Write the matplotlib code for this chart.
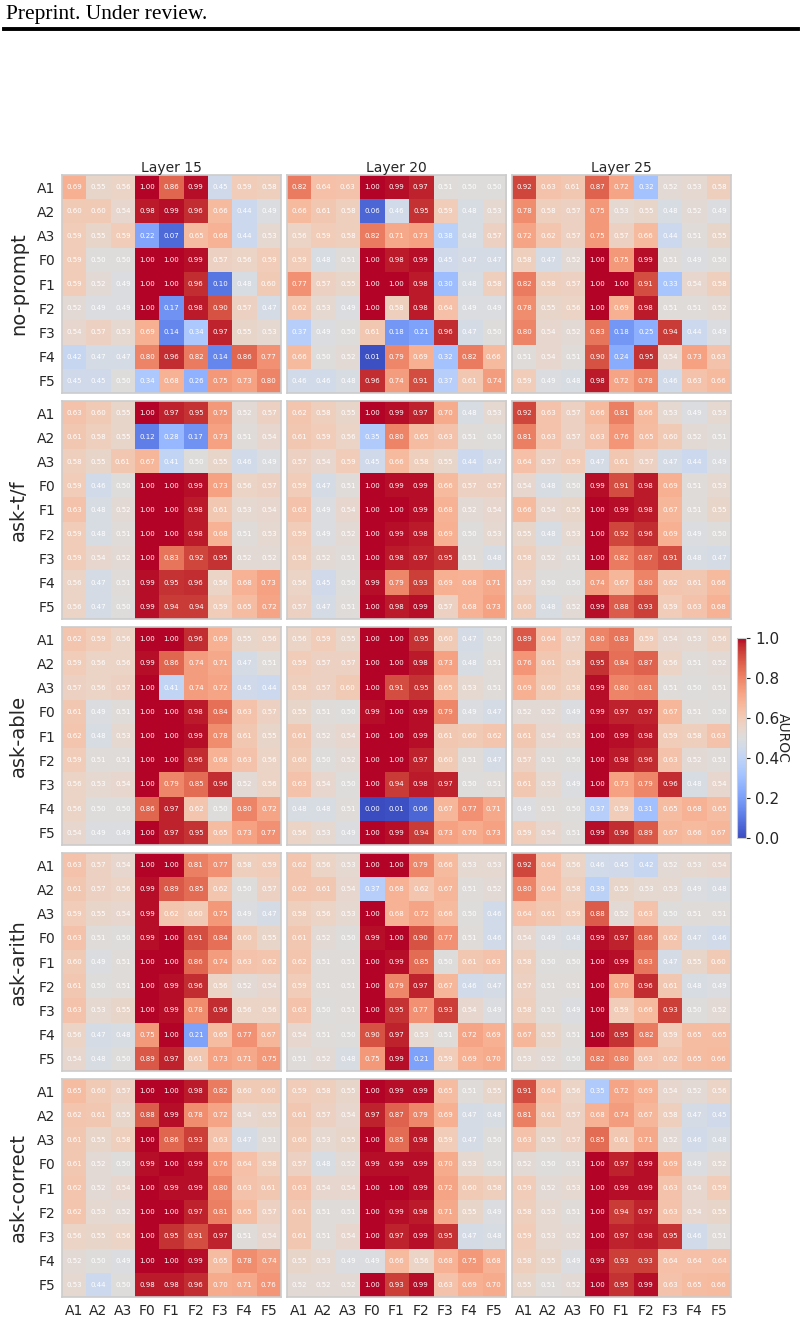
import numpy as np
import matplotlib
matplotlib.use('Agg')
import matplotlib.pyplot as plt
from matplotlib.lines import Line2D

# feature labels (rows and columns) / layers / prompt variants
features = ['A1', 'A2', 'A3', 'F0', 'F1', 'F2', 'F3', 'F4', 'F5']
layers = ['Layer 15', 'Layer 20', 'Layer 25']
prompts = ['no-prompt', 'ask-t/f', 'ask-able', 'ask-arith', 'ask-correct']

# AUROC values, one 9x9 grid per layer
no_prompt = [
    [[0.69, 0.55, 0.56, 1.00, 0.86, 0.99, 0.45, 0.59, 0.58],
     [0.60, 0.60, 0.54, 0.98, 0.99, 0.96, 0.66, 0.44, 0.49],
     [0.59, 0.55, 0.59, 0.22, 0.07, 0.65, 0.68, 0.44, 0.53],
     [0.59, 0.50, 0.50, 1.00, 1.00, 0.99, 0.57, 0.56, 0.59],
     [0.59, 0.52, 0.49, 1.00, 1.00, 0.96, 0.10, 0.48, 0.60],
     [0.52, 0.49, 0.49, 1.00, 0.17, 0.98, 0.90, 0.57, 0.47],
     [0.54, 0.57, 0.53, 0.69, 0.14, 0.34, 0.97, 0.55, 0.53],
     [0.42, 0.47, 0.47, 0.80, 0.96, 0.82, 0.14, 0.86, 0.77],
     [0.45, 0.45, 0.50, 0.34, 0.68, 0.26, 0.75, 0.73, 0.80]],
    [[0.82, 0.64, 0.63, 1.00, 0.99, 0.97, 0.51, 0.50, 0.50],
     [0.66, 0.61, 0.58, 0.06, 0.46, 0.95, 0.59, 0.48, 0.53],
     [0.56, 0.59, 0.58, 0.82, 0.71, 0.73, 0.38, 0.48, 0.57],
     [0.59, 0.48, 0.51, 1.00, 0.98, 0.99, 0.45, 0.47, 0.47],
     [0.77, 0.57, 0.55, 1.00, 1.00, 0.98, 0.30, 0.48, 0.58],
     [0.62, 0.53, 0.49, 1.00, 0.58, 0.98, 0.64, 0.49, 0.49],
     [0.37, 0.49, 0.50, 0.61, 0.18, 0.21, 0.96, 0.47, 0.50],
     [0.66, 0.50, 0.52, 0.01, 0.79, 0.69, 0.32, 0.82, 0.66],
     [0.46, 0.46, 0.48, 0.96, 0.74, 0.91, 0.37, 0.61, 0.74]],
    [[0.92, 0.63, 0.61, 0.87, 0.72, 0.32, 0.52, 0.53, 0.58],
     [0.78, 0.58, 0.57, 0.75, 0.53, 0.55, 0.48, 0.52, 0.49],
     [0.72, 0.62, 0.57, 0.75, 0.57, 0.66, 0.44, 0.51, 0.55],
     [0.58, 0.47, 0.52, 1.00, 0.75, 0.99, 0.51, 0.49, 0.50],
     [0.82, 0.58, 0.57, 1.00, 1.00, 0.91, 0.33, 0.54, 0.58],
     [0.78, 0.55, 0.56, 1.00, 0.69, 0.98, 0.51, 0.51, 0.52],
     [0.80, 0.54, 0.52, 0.83, 0.18, 0.25, 0.94, 0.44, 0.49],
     [0.51, 0.54, 0.51, 0.90, 0.24, 0.95, 0.54, 0.73, 0.63],
     [0.59, 0.49, 0.48, 0.98, 0.72, 0.78, 0.46, 0.63, 0.66]],
]

ask_tf = [
    [[0.63, 0.60, 0.55, 1.00, 0.97, 0.95, 0.75, 0.52, 0.57],
     [0.61, 0.58, 0.55, 0.12, 0.28, 0.17, 0.73, 0.51, 0.54],
     [0.58, 0.55, 0.61, 0.67, 0.41, 0.50, 0.55, 0.46, 0.49],
     [0.59, 0.46, 0.50, 1.00, 1.00, 0.99, 0.73, 0.56, 0.57],
     [0.63, 0.48, 0.52, 1.00, 1.00, 0.98, 0.61, 0.53, 0.54],
     [0.59, 0.48, 0.51, 1.00, 1.00, 0.98, 0.68, 0.51, 0.53],
     [0.59, 0.54, 0.52, 1.00, 0.83, 0.92, 0.95, 0.52, 0.52],
     [0.56, 0.47, 0.51, 0.99, 0.95, 0.96, 0.56, 0.68, 0.73],
     [0.56, 0.47, 0.50, 0.99, 0.94, 0.94, 0.59, 0.65, 0.72]],
    [[0.62, 0.58, 0.55, 1.00, 0.99, 0.97, 0.70, 0.48, 0.53],
     [0.61, 0.59, 0.56, 0.35, 0.80, 0.65, 0.63, 0.51, 0.50],
     [0.57, 0.54, 0.59, 0.45, 0.66, 0.58, 0.55, 0.44, 0.47],
     [0.59, 0.47, 0.51, 1.00, 0.99, 0.99, 0.66, 0.57, 0.57],
     [0.63, 0.49, 0.54, 1.00, 1.00, 0.99, 0.68, 0.52, 0.54],
     [0.59, 0.49, 0.52, 1.00, 0.99, 0.98, 0.69, 0.50, 0.53],
     [0.58, 0.52, 0.51, 1.00, 0.98, 0.97, 0.95, 0.51, 0.48],
     [0.56, 0.45, 0.50, 0.99, 0.79, 0.93, 0.69, 0.68, 0.71],
     [0.57, 0.47, 0.51, 1.00, 0.98, 0.99, 0.57, 0.68, 0.73]],
    [[0.92, 0.63, 0.57, 0.66, 0.81, 0.66, 0.53, 0.49, 0.53],
     [0.81, 0.63, 0.57, 0.63, 0.76, 0.65, 0.60, 0.52, 0.51],
     [0.64, 0.57, 0.59, 0.47, 0.61, 0.57, 0.47, 0.44, 0.49],
     [0.54, 0.48, 0.50, 0.99, 0.91, 0.98, 0.69, 0.51, 0.53],
     [0.66, 0.54, 0.55, 1.00, 0.99, 0.98, 0.67, 0.51, 0.55],
     [0.55, 0.48, 0.53, 1.00, 0.92, 0.96, 0.69, 0.49, 0.50],
     [0.58, 0.52, 0.51, 1.00, 0.82, 0.87, 0.91, 0.48, 0.47],
     [0.57, 0.50, 0.50, 0.74, 0.67, 0.80, 0.62, 0.61, 0.66],
     [0.60, 0.48, 0.52, 0.99, 0.88, 0.93, 0.59, 0.63, 0.68]],
]

ask_able = [
    [[0.62, 0.59, 0.56, 1.00, 1.00, 0.96, 0.69, 0.55, 0.56],
     [0.59, 0.56, 0.56, 0.99, 0.86, 0.74, 0.71, 0.47, 0.51],
     [0.57, 0.56, 0.57, 1.00, 0.41, 0.74, 0.72, 0.45, 0.44],
     [0.61, 0.49, 0.51, 1.00, 1.00, 0.98, 0.84, 0.63, 0.57],
     [0.62, 0.48, 0.53, 1.00, 1.00, 0.99, 0.78, 0.61, 0.55],
     [0.59, 0.51, 0.51, 1.00, 1.00, 0.96, 0.68, 0.63, 0.56],
     [0.56, 0.53, 0.54, 1.00, 0.79, 0.85, 0.96, 0.52, 0.56],
     [0.56, 0.50, 0.50, 0.86, 0.97, 0.62, 0.50, 0.80, 0.72],
     [0.54, 0.49, 0.49, 1.00, 0.97, 0.95, 0.65, 0.73, 0.77]],
    [[0.56, 0.59, 0.55, 1.00, 1.00, 0.95, 0.60, 0.47, 0.50],
     [0.59, 0.57, 0.57, 1.00, 1.00, 0.98, 0.73, 0.48, 0.51],
     [0.58, 0.57, 0.60, 1.00, 0.91, 0.95, 0.65, 0.53, 0.51],
     [0.55, 0.51, 0.50, 0.99, 1.00, 0.99, 0.79, 0.49, 0.47],
     [0.61, 0.52, 0.54, 1.00, 1.00, 0.99, 0.61, 0.60, 0.62],
     [0.60, 0.50, 0.52, 1.00, 1.00, 0.97, 0.60, 0.51, 0.47],
     [0.63, 0.54, 0.50, 1.00, 0.94, 0.98, 0.97, 0.50, 0.51],
     [0.48, 0.48, 0.51, 0.00, 0.01, 0.06, 0.67, 0.77, 0.71],
     [0.56, 0.53, 0.49, 1.00, 0.99, 0.94, 0.73, 0.70, 0.73]],
    [[0.89, 0.64, 0.57, 0.80, 0.83, 0.59, 0.54, 0.53, 0.56],
     [0.76, 0.61, 0.58, 0.95, 0.84, 0.87, 0.56, 0.51, 0.52],
     [0.69, 0.60, 0.58, 0.99, 0.80, 0.81, 0.51, 0.50, 0.51],
     [0.52, 0.52, 0.49, 0.99, 0.97, 0.97, 0.67, 0.51, 0.50],
     [0.61, 0.54, 0.53, 1.00, 0.99, 0.98, 0.59, 0.58, 0.63],
     [0.57, 0.51, 0.50, 1.00, 0.98, 0.96, 0.63, 0.52, 0.51],
     [0.61, 0.53, 0.49, 1.00, 0.73, 0.79, 0.96, 0.48, 0.54],
     [0.49, 0.51, 0.50, 0.37, 0.59, 0.31, 0.65, 0.68, 0.65],
     [0.59, 0.54, 0.51, 0.99, 0.96, 0.89, 0.67, 0.66, 0.67]],
]

ask_arith = [
    [[0.63, 0.57, 0.54, 1.00, 1.00, 0.81, 0.77, 0.58, 0.59],
     [0.61, 0.57, 0.56, 0.99, 0.89, 0.85, 0.62, 0.50, 0.57],
     [0.59, 0.55, 0.54, 0.99, 0.62, 0.60, 0.75, 0.49, 0.47],
     [0.63, 0.51, 0.50, 0.99, 1.00, 0.91, 0.84, 0.60, 0.55],
     [0.60, 0.49, 0.51, 1.00, 1.00, 0.86, 0.74, 0.63, 0.62],
     [0.61, 0.50, 0.51, 1.00, 0.99, 0.96, 0.56, 0.52, 0.54],
     [0.63, 0.53, 0.55, 1.00, 0.99, 0.78, 0.96, 0.56, 0.56],
     [0.56, 0.47, 0.48, 0.75, 1.00, 0.21, 0.65, 0.77, 0.67],
     [0.54, 0.48, 0.50, 0.89, 0.97, 0.61, 0.73, 0.71, 0.75]],
    [[0.62, 0.56, 0.53, 1.00, 1.00, 0.79, 0.66, 0.53, 0.53],
     [0.62, 0.61, 0.54, 0.37, 0.68, 0.62, 0.67, 0.51, 0.52],
     [0.58, 0.56, 0.53, 1.00, 0.68, 0.72, 0.66, 0.50, 0.46],
     [0.61, 0.52, 0.50, 0.99, 1.00, 0.90, 0.77, 0.51, 0.46],
     [0.62, 0.51, 0.51, 1.00, 0.99, 0.85, 0.50, 0.61, 0.63],
     [0.59, 0.51, 0.51, 1.00, 0.79, 0.97, 0.67, 0.46, 0.47],
     [0.63, 0.50, 0.51, 1.00, 0.95, 0.77, 0.93, 0.54, 0.49],
     [0.54, 0.51, 0.50, 0.90, 0.97, 0.53, 0.51, 0.72, 0.69],
     [0.51, 0.52, 0.48, 0.75, 0.99, 0.21, 0.59, 0.69, 0.70]],
    [[0.92, 0.64, 0.56, 0.46, 0.45, 0.42, 0.52, 0.53, 0.54],
     [0.80, 0.64, 0.58, 0.39, 0.55, 0.53, 0.53, 0.49, 0.48],
     [0.64, 0.61, 0.59, 0.88, 0.52, 0.63, 0.50, 0.51, 0.51],
     [0.54, 0.49, 0.48, 0.99, 0.97, 0.86, 0.62, 0.47, 0.46],
     [0.58, 0.50, 0.50, 1.00, 0.99, 0.83, 0.47, 0.55, 0.60],
     [0.57, 0.51, 0.51, 1.00, 0.70, 0.96, 0.61, 0.48, 0.49],
     [0.58, 0.51, 0.49, 1.00, 0.59, 0.66, 0.93, 0.50, 0.52],
     [0.67, 0.55, 0.51, 1.00, 0.95, 0.82, 0.59, 0.65, 0.65],
     [0.53, 0.52, 0.50, 0.82, 0.80, 0.63, 0.62, 0.65, 0.66]],
]

ask_correct = [
    [[0.65, 0.60, 0.57, 1.00, 1.00, 0.98, 0.82, 0.60, 0.60],
     [0.62, 0.61, 0.55, 0.88, 0.99, 0.78, 0.72, 0.54, 0.55],
     [0.61, 0.55, 0.58, 1.00, 0.86, 0.93, 0.63, 0.47, 0.51],
     [0.61, 0.52, 0.50, 0.99, 1.00, 0.99, 0.76, 0.64, 0.58],
     [0.62, 0.52, 0.54, 1.00, 0.99, 0.99, 0.80, 0.63, 0.61],
     [0.62, 0.53, 0.52, 1.00, 1.00, 0.97, 0.81, 0.65, 0.57],
     [0.56, 0.55, 0.56, 1.00, 0.95, 0.91, 0.97, 0.51, 0.54],
     [0.52, 0.50, 0.49, 1.00, 1.00, 0.99, 0.65, 0.78, 0.74],
     [0.53, 0.44, 0.50, 0.98, 0.98, 0.96, 0.70, 0.71, 0.76]],
    [[0.59, 0.58, 0.55, 1.00, 0.99, 0.99, 0.65, 0.51, 0.55],
     [0.61, 0.57, 0.54, 0.97, 0.87, 0.79, 0.69, 0.47, 0.48],
     [0.60, 0.53, 0.55, 1.00, 0.85, 0.98, 0.59, 0.47, 0.50],
     [0.57, 0.48, 0.52, 0.99, 0.99, 0.99, 0.70, 0.53, 0.50],
     [0.63, 0.54, 0.54, 1.00, 1.00, 0.99, 0.72, 0.60, 0.58],
     [0.61, 0.51, 0.51, 1.00, 0.99, 0.98, 0.71, 0.55, 0.49],
     [0.61, 0.51, 0.54, 1.00, 0.97, 0.99, 0.95, 0.47, 0.48],
     [0.55, 0.53, 0.49, 0.49, 0.66, 0.56, 0.68, 0.75, 0.68],
     [0.52, 0.52, 0.52, 1.00, 0.93, 0.99, 0.63, 0.69, 0.70]],
    [[0.91, 0.64, 0.56, 0.35, 0.72, 0.69, 0.54, 0.52, 0.56],
     [0.81, 0.61, 0.57, 0.68, 0.74, 0.67, 0.58, 0.47, 0.45],
     [0.63, 0.55, 0.57, 0.85, 0.61, 0.71, 0.52, 0.46, 0.48],
     [0.52, 0.50, 0.51, 1.00, 0.97, 0.99, 0.69, 0.49, 0.52],
     [0.59, 0.52, 0.53, 1.00, 0.99, 0.99, 0.63, 0.54, 0.59],
     [0.58, 0.53, 0.51, 1.00, 0.94, 0.97, 0.63, 0.54, 0.55],
     [0.59, 0.53, 0.52, 1.00, 0.97, 0.98, 0.95, 0.46, 0.51],
     [0.58, 0.55, 0.49, 0.99, 0.93, 0.93, 0.64, 0.64, 0.64],
     [0.55, 0.51, 0.52, 1.00, 0.95, 0.99, 0.63, 0.65, 0.66]],
]

all_data = [no_prompt, ask_tf, ask_able, ask_arith, ask_correct]

W, H = 804, 1324
fig = plt.figure(figsize=(W / 100, H / 100), dpi=100)

# page header of the paper
fig.text(6 / W, 1 - 14 / H, 'Preprint. Under review.', family='Liberation Serif',
         fontsize=15.5, va='center', ha='left')
fig.add_artist(Line2D([4 / W, 798 / W], [1 - 29 / H, 1 - 29 / H], color='black', lw=2.8))

# panel positions in pixels
col_x = [62, 287, 512]
row_y = [175, 401, 627, 853, 1079]
pw, ph = 219, 218

im = None
for r, prompt in enumerate(prompts):
    for c, layer in enumerate(layers):
        ax = fig.add_axes([col_x[c] / W, 1 - (row_y[r] + ph) / H, pw / W, ph / H])
        grid = np.array(all_data[r][c])
        im = ax.imshow(grid, cmap='coolwarm', vmin=0, vmax=1, aspect='auto',
                       interpolation='nearest')
        for i in range(9):
            for j in range(9):
                ax.text(j, i, '%.2f' % grid[i, j], ha='center', va='center',
                        color='white', fontsize=5)
        for s in ax.spines.values():
            s.set_color('#cccccc')
            s.set_linewidth(1.2)
        ax.tick_params(length=0, labelsize=10, colors='#262626')
        ax.set_xticks(range(9))
        ax.set_yticks(range(9))
        if r == len(prompts) - 1:
            ax.set_xticklabels(features)
            ax.tick_params(axis='x', pad=5)
        else:
            ax.set_xticklabels([])
        if c == 0:
            ax.set_yticklabels(features)
            ax.tick_params(axis='y', pad=5)
            ax.set_ylabel(prompt, fontsize=14, labelpad=6, color='#262626')
        else:
            ax.set_yticklabels([])
        if r == 0:
            ax.set_title(layer, fontsize=10, pad=2, color='#262626')

# colorbar
cax = fig.add_axes([737 / W, 1 - 838 / H, 9 / W, 200 / H])
cb = fig.colorbar(im, cax=cax)
cb.outline.set_edgecolor('#cccccc')
cb.outline.set_linewidth(0.8)
cb.set_ticks([0.0, 0.2, 0.4, 0.6, 0.8, 1.0])
cb.ax.tick_params(labelsize=11, length=3, colors='#262626')
cb.set_label('AUROC', rotation=270, fontsize=10, labelpad=8, color='#262626')

fig.savefig('out.png', dpi=100)
